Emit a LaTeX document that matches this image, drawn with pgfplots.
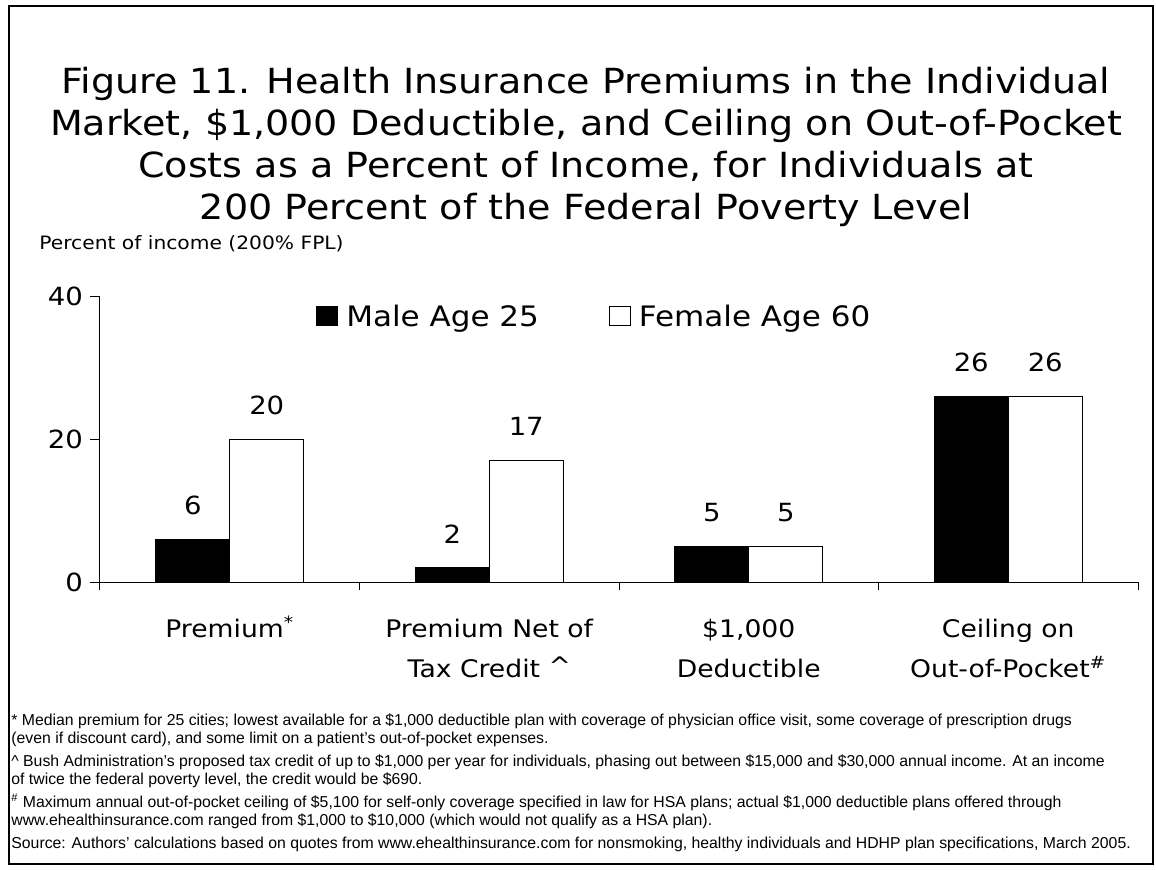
\documentclass[border=0pt]{standalone}
\usepackage{fontspec}
\setmainfont{DejaVu Sans}[FakeStretch=1.1]
\newfontfamily\fnfont{Liberation Sans}
\usepackage{pgfplots}
\pgfplotsset{compat=1.18}
\pgfplotsset{sqlegend/.style={legend image code/.code={\draw[##1,line width=0.5pt] (0pt,-4pt) rectangle (10.5pt,5.5pt);}}}
\newcommand\fl{\rule{0pt}{14pt}}
\begin{document}
\begin{tikzpicture}
\path[use as bounding box] (0,0) rectangle (578pt,434.5pt);
\draw[line width=1.1pt] (4.5pt,431.5pt) rectangle (576.5pt,2.5pt);
\node[align=center, font=\fontsize{17.3}{21}\selectfont, anchor=center] at (293pt,361.25pt)
 {Figure 11. Health Insurance Premiums in the Individual\\
  Market, \$1,000 Deductible, and Ceiling on Out-of-Pocket\\
  Costs as a Percent of Income, for Individuals at\\
  200 Percent of the Federal Poverty Level};
\begin{axis}[
  at={(50pt,143.5pt)}, anchor=south west,
  scale only axis, width=519pt, height=143pt,
  xmin=-0.5, xmax=3.5, ymin=0, ymax=40,
  axis x line*=bottom, axis y line*=left,
  axis line style={line width=0.5pt},
  every tick/.style={black, line width=0.5pt},
  /pgf/number format/assume math mode=true,
  xtick={0,1,2,3},
  xticklabels={{\fl Premium\textsuperscript{*}},{\fl Premium Net of\\Tax Credit \raisebox{1.5pt}{\char"5E}},{\fl\$1,000\\Deductible},{\fl Ceiling on\\Out-of-Pocket\textsuperscript{\#}}},
  xticklabel style={align=center, font=\fontsize{12.1}{20}\selectfont, yshift=-5pt},
  major x tick style={draw=none},
  minor xtick={-0.5,0.5,1.5,2.5,3.5},
  ytick={0,20,40},
  yticklabel style={font=\fontsize{12.5}{14}\selectfont},
  tick align=outside,
  major tick length=5pt, minor tick length=4pt,
  ybar=0pt, bar width=37pt,
  nodes near coords,
  every node near coord/.append style={font=\fontsize{12.5}{14}\selectfont, inner sep=0pt, anchor=south, yshift=12pt},
  ylabel={Percent of income (200\% FPL)},
  every axis y label/.style={at={(axis description cs:-0.0588,1.161)}, anchor=base west, inner sep=0pt, font=\fontsize{9.2}{11}\selectfont},
  legend columns=2,
  legend style={at={(axis description cs:0.208,0.925)}, anchor=west, draw=none, fill=none, inner sep=0pt,
    font=\fontsize{14.1}{16}\selectfont,
    /tikz/every odd column/.append style={column sep=2pt},
    /tikz/every even column/.append style={column sep=33pt}},
]
\addplot[fill=black, draw=black, line width=0.5pt, sqlegend] coordinates {(0,6) (1,2) (2,5) (3,26)};
\addplot[fill=white, draw=black, line width=0.5pt, sqlegend] coordinates {(0,20) (1,17) (2,5) (3,26)};
\legend{Male Age 25, Female Age 60}
\end{axis}
\begin{scope}[font=\fnfont\fontsize{7.9}{9}\selectfont]
\node[anchor=base west, inner sep=0pt] at (5.5pt,72pt) {* Median premium for 25 cities; lowest available for a \$1,000 deductible plan with coverage of physician office visit, some coverage of prescription drugs};
\node[anchor=base west, inner sep=0pt] at (5.5pt,63pt) {(even if discount card), and some limit on a patient’s out-of-pocket expenses.};
\node[anchor=base west, inner sep=0pt] at (5.5pt,51.5pt) {\char"5E{} Bush Administration’s proposed tax credit of up to \$1,000 per year for individuals, phasing out between \$15,000 and \$30,000 annual income. At an income};
\node[anchor=base west, inner sep=0pt] at (5.5pt,42.5pt) {of twice the federal poverty level, the credit would be \$690.};
\node[anchor=base west, inner sep=0pt] at (5.5pt,31pt) {\textsuperscript{\#} Maximum annual out-of-pocket ceiling of \$5,100 for self-only coverage specified in law for HSA plans; actual \$1,000 deductible plans offered through};
\node[anchor=base west, inner sep=0pt] at (5.5pt,22pt) {www.ehealthinsurance.com ranged from \$1,000 to \$10,000 (which would not qualify as a HSA plan).};
\node[anchor=base west, inner sep=0pt] at (5.5pt,10.5pt) {Source: Authors’ calculations based on quotes from www.ehealthinsurance.com for nonsmoking, healthy individuals and HDHP plan specifications, March 2005.};
\end{scope}
\end{tikzpicture}
\end{document}
